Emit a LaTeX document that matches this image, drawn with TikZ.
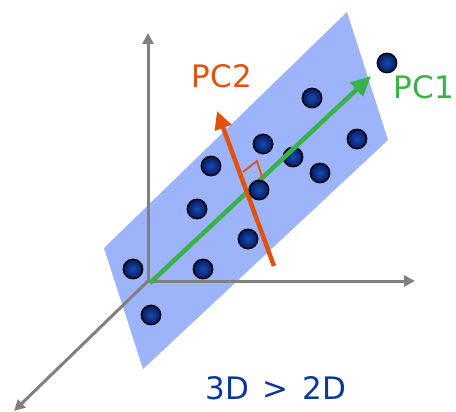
\documentclass[tikz,border=0pt]{standalone}
\usepackage{fontspec}
\setmainfont{DejaVu Sans}
\usetikzlibrary{arrows.meta}
\definecolor{planeblue}{RGB}{157,180,250}
\definecolor{axisgray}{RGB}{128,128,128}
\definecolor{pcgreen}{RGB}{57,178,74}
\definecolor{pcorange}{RGB}{224,82,14}
\definecolor{textblue}{RGB}{10,55,155}
\definecolor{dotin}{RGB}{25,75,175}
\definecolor{dotout}{RGB}{5,25,95}
\begin{document}
\begin{tikzpicture}[x=1pt,y=-1pt,
  axis/.style={draw=axisgray,line width=3pt,-{Triangle[length=11pt,width=11pt]}},
  dot/.style={circle,minimum size=19.5pt,inner sep=0pt,draw=black,line width=1.3pt,inner color=dotin,outer color=dotout},
  lbl/.style={font=\fontsize{31}{31}\selectfont,inner sep=0pt}]
\useasboundingbox (0,0) rectangle (456,412);
% plane
\fill[planeblue] (104,248) -- (347,12) -- (388,140) -- (143,369) -- cycle;
% axes
\coordinate (O) at (148,281);
\coordinate (Zt) at (148,33);
\coordinate (Xt) at (415,281);
\coordinate (Yt) at (14,411);
\draw[axis] (O) -- (Zt);
\draw[axis] (O) -- (Xt);
\draw[axis] (O) -- (Yt);
% dots
\node[dot] (d1) at (387,63) {};
\node[dot] (d2) at (312,98) {};
\node[dot] (d3) at (263,144) {};
\node[dot] (d4) at (357,139) {};
\node[dot] (d5) at (293,157) {};
\node[dot] (d6) at (320,173) {};
\node[dot] (d7) at (211,166) {};
\node[dot] (d9) at (197,209) {};
\node[dot] (d10) at (248,239) {};
\node[dot] (d11) at (133,269) {};
\node[dot] (d12) at (203,269) {};
\node[dot] (d13) at (151,315) {};
% PC1
\coordinate (g0) at (150,283);
\coordinate (g1) at (371,76);
\draw[pcgreen,line width=4.5pt,-{Triangle[length=20pt,width=18pt]}] (g0) -- (g1);
% PC2
\coordinate (o0) at (274,266);
\coordinate (o1) at (217,111);
\draw[pcorange,line width=4.5pt,-{Triangle[length=18pt,width=17pt]}] (o0) -- (o1);
% right angle
\draw[pcorange,line width=1.8pt] (243,172) -- (257,161) -- (262,177);
\node[dot] (d8) at (259,190) {};
% labels
\node[lbl,text=pcorange] (pc2) at (222,76) {PC2};
\node[lbl,text=pcgreen] (pc1) at (424,87) {PC1};
\node[lbl,text=textblue] (dim) at (276,388) {3D\hspace{0.45em}>\hspace{0.45em}2D};
\end{tikzpicture}
\end{document}
